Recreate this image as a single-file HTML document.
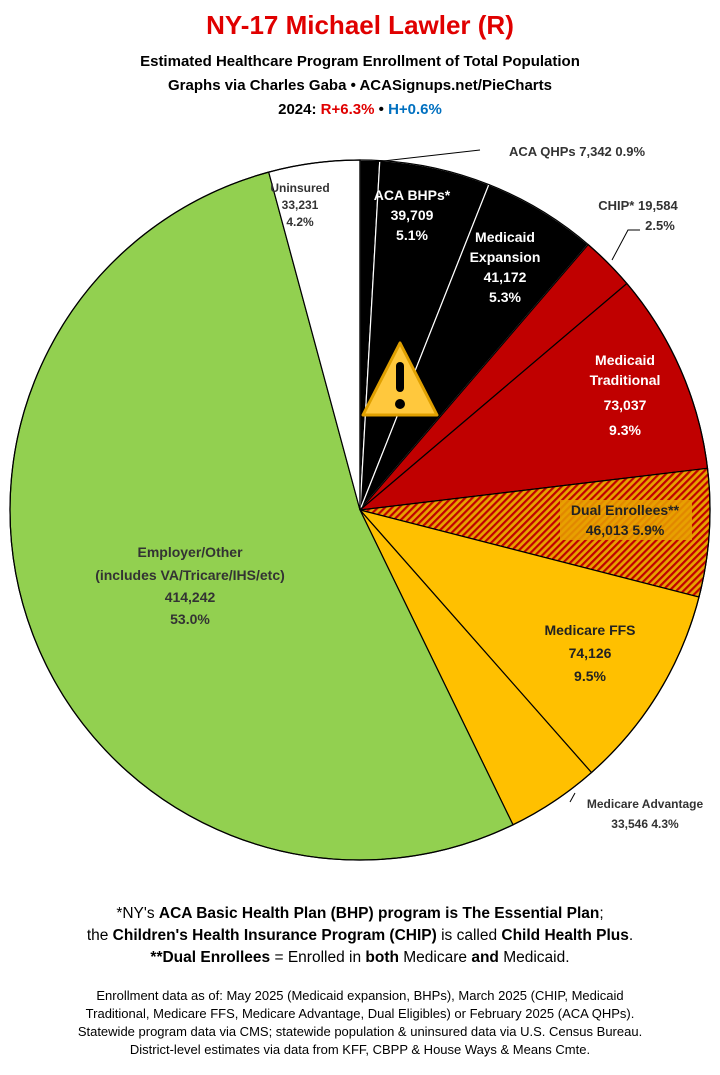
<!DOCTYPE html>
<html><head><meta charset="utf-8"><style>
body{margin:0;width:720px;height:1070px;background:#fff;font-family:"Liberation Sans",sans-serif;overflow:hidden}
svg text{font-family:"Liberation Sans",sans-serif}
.b{font-weight:bold}
</style></head><body>
<svg id="s" width="720" height="1070" xmlns="http://www.w3.org/2000/svg">
<defs>
<pattern id="h" width="5" height="5" patternUnits="userSpaceOnUse" patternTransform="rotate(-45)">
<rect width="5" height="5" fill="#e8a000"/><rect width="5" height="2.2" fill="#c00000"/>
</pattern>
</defs>
<g id="pie"></g>
<g font-weight="bold">
<text x="360" y="34" text-anchor="middle" font-size="26" fill="#e00000">NY-17 Michael Lawler (R)</text>
<text x="360" y="66" text-anchor="middle" font-size="15">Estimated Healthcare Program Enrollment of Total Population</text>
<text x="360" y="90" text-anchor="middle" font-size="15">Graphs via Charles Gaba  •  ACASignups.net/PieCharts</text>
<text x="360" y="114" text-anchor="middle" font-size="15">2024: <tspan fill="#e00000">R+6.3%</tspan> • <tspan fill="#0070c0">H+0.6%</tspan></text>
<g font-size="14" text-anchor="middle">
<text x="300" y="192" font-size="12" fill="#333">Uninsured</text><text x="300" y="209" font-size="12" fill="#333">33,231</text><text x="300" y="226" font-size="12" fill="#333">4.2%</text>
<text x="412" y="200" fill="#fff">ACA BHPs*</text><text x="412" y="220" fill="#fff">39,709</text><text x="412" y="240" fill="#fff">5.1%</text>
<text x="505" y="242" fill="#fff">Medicaid</text><text x="505" y="262" fill="#fff">Expansion</text><text x="505" y="282" fill="#fff">41,172</text><text x="505" y="302" fill="#fff">5.3%</text>
<text x="625" y="365" fill="#fff">Medicaid</text><text x="625" y="385" fill="#fff">Traditional</text><text x="625" y="410" fill="#fff">73,037</text><text x="625" y="435" fill="#fff">9.3%</text>
<rect x="560" y="500" width="132" height="40" fill="#e8a000" opacity="0.85"/>
<text x="625" y="515" fill="#222">Dual Enrollees**</text><text x="625" y="535" fill="#222">46,013 5.9%</text>
<text x="590" y="635" fill="#222">Medicare FFS</text><text x="590" y="658" fill="#222">74,126</text><text x="590" y="681" fill="#222">9.5%</text>
<text x="190" y="557" fill="#333">Employer/Other</text><text x="190" y="580" fill="#333">(includes VA/Tricare/IHS/etc)</text><text x="190" y="602" fill="#333">414,242</text><text x="190" y="624" fill="#333">53.0%</text>
<text x="577" y="156" font-size="13" fill="#333">ACA QHPs 7,342 0.9%</text>
<text x="638" y="210" font-size="13" fill="#333">CHIP* 19,584</text><text x="660" y="230" font-size="13" fill="#333">2.5%</text>
<text x="645" y="808" font-size="12" fill="#333">Medicare Advantage</text><text x="645" y="828" font-size="12" fill="#333">33,546 4.3%</text>
</g>
</g>
<polyline points="366,163 480,150" stroke="#000" fill="none"/>
<polyline points="612,260 628,230 640,230" stroke="#000" fill="none"/>
<line x1="575" y1="793" x2="570" y2="802" stroke="#000"/>
<polygon points="400,343 437,415 363,415" fill="#ffc83d" stroke="#e0a000" stroke-width="3" stroke-linejoin="round"/>
<rect x="396" y="362" width="8" height="30" rx="4" fill="#000"/><circle cx="400" cy="404" r="5" fill="#000"/>
<g text-anchor="middle" font-size="15.5">
<text x="360" y="918">*NY's <tspan class="b">ACA Basic Health Plan (BHP) program is The Essential Plan</tspan>;</text>
<text x="360" y="940">the <tspan class="b">Children's Health Insurance Program (CHIP)</tspan> is called <tspan class="b">Child Health Plus</tspan>.</text>
<text x="360" y="962"><tspan class="b">**Dual Enrollees</tspan> = Enrolled in <tspan class="b">both</tspan> Medicare <tspan class="b">and</tspan> Medicaid.</text>
</g>
<g text-anchor="middle" font-size="13">
<text x="360" y="1000">Enrollment data as of: May 2025 (Medicaid expansion, BHPs), March 2025 (CHIP, Medicaid</text>
<text x="360" y="1018">Traditional, Medicare FFS, Medicare Advantage, Dual Eligibles) or February 2025 (ACA QHPs).</text>
<text x="360" y="1036">Statewide program data via CMS; statewide population &amp; uninsured data via U.S. Census Bureau.</text>
<text x="360" y="1054">District-level estimates via data from KFF, CBPP &amp; House Ways &amp; Means Cmte.</text>
</g>
</svg>
<script>
var cx=360,cy=510,r=350;
var d=[[0.9,"#000"],[5.1,"#000"],[5.3,"#000"],[2.5,"#c00000"],[9.3,"#c00000"],[5.9,"url(#h)"],[9.5,"#ffc000"],[4.3,"#ffc000"],[53.0,"#92d050"],[4.2,"#fff"]];
var a=0,g=document.getElementById("pie"),s="";
d.forEach(function(e){var a0=a/100*2*Math.PI,a1=(a+e[0])/100*2*Math.PI;a+=e[0];
var x0=cx+r*Math.sin(a0),y0=cy-r*Math.cos(a0),x1=cx+r*Math.sin(a1),y1=cy-r*Math.cos(a1);
var st=e[1]=="#000"?"#fff":"#000";
s+='<path d="M'+cx+','+cy+'L'+x0+','+y0+'A'+r+','+r+' 0 '+(e[0]>50?1:0)+' 1 '+x1+','+y1+'Z" fill="'+e[1]+'" stroke="'+st+'" stroke-width="1.2"/>';});
s+='<line x1="360" y1="510" x2="360" y2="160" stroke="#000" stroke-width="1.2"/>';
s+='<circle cx="360" cy="510" r="350" fill="none" stroke="#000" stroke-width="1.2"/>';
g.innerHTML=s;
</script>
</body></html>
